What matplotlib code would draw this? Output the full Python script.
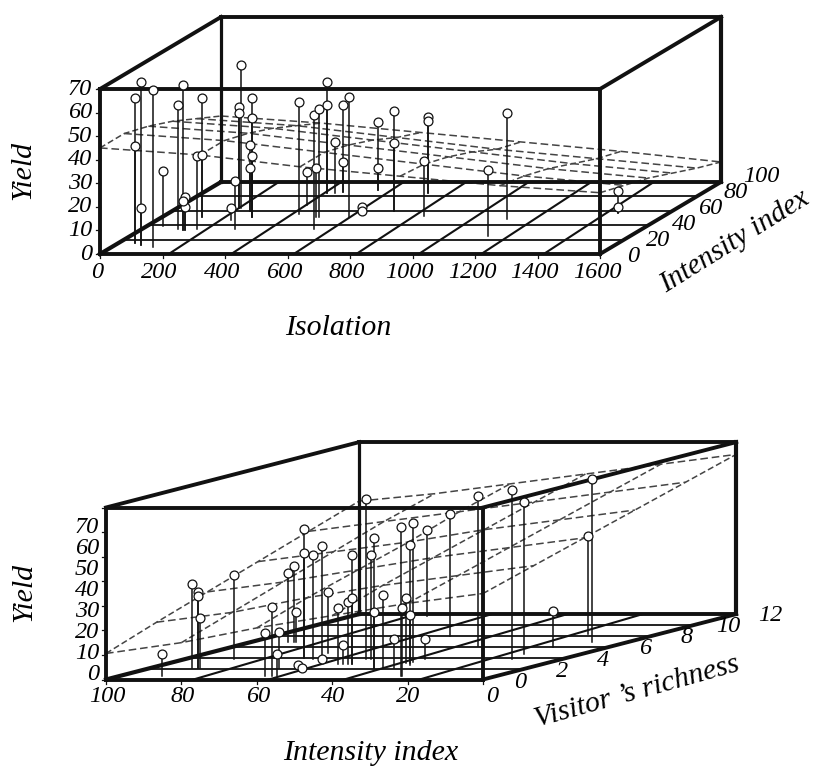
import matplotlib
matplotlib.use("Agg")
import matplotlib.pyplot as plt

plt.rcParams['font.family'] = 'Liberation Serif'
plt.rcParams['font.style'] = 'italic'

# top panel: isolation, intensity index (depth), yield
iso_x = [55, 55, 82, 82, 135, 52, 116, 138, 143, 143, 138, 177, 129, 129, 236, 300, 200, 200, 206, 246, 246,
         290, 290, 290, 424, 398, 551, 495, 504, 396, 396, 426, 442, 442, 597, 621, 621, 546, 546, 708, 708,
         721, 721, 832, 1146, 1114, 1440, 1440]
iso_depth = [14.8, 14.8, 12.5, 12.5, 9.3, 38.9, 34.3, 33.3, 33.3, 33.3, 33.3, 34.3, 50.9, 50.9, 47.2, 34.3, 63.4,
             63.4, 63.4, 60.2, 60.2, 50.9, 50.9, 50.9, 55.1, 68.1, 34.3, 50.9, 50.9, 85.2, 85.2, 84.3, 86.6, 86.6,
             51.9, 56.5, 56.5, 88.9, 88.9, 60.2, 60.2, 85.2, 85.2, 52.8, 25, 48.6, 56.5, 56.5]
iso_yield = [61.8, 41.2, 69.2, 15.8, 66.6, 23.5, 52.8, 61.5, 14.1, 9.9, 12.3, 31, 50.8, 26.4, 5.2, 20.4, 43.1,
             40.3, 60.8, 28, 18.2, 50.8, 42.3, 25.9, 47.7, 14, 48.5, 21, 45.8, 47, 37.2, 21.6, 36.8, 12.6,
             50.9, 2.8, 1, 28.9, 9.5, 42.4, 28.6, 32.2, 30.6, 23.5, 27.8, 44.8, 9.5, 2.8]
iso_grid_x = [0, 320, 640, 960, 1280, 1600]
iso_grid_depth = [0, 20, 40, 60, 80, 100]
iso_surface = [[45, 42, 37, 33, 29, 26],
               [45, 42, 37, 32, 27, 23],
               [42, 39, 34, 29, 24, 20],
               [38, 35, 30, 25, 20, 16],
               [33, 30, 25, 20, 16, 12],
               [28, 25, 21, 17, 13, 8.5]]

# bottom panel: intensity index, visitor's richness (depth), yield
int_x = [88.7, 88.7, 87.2, 87.2, 86.5, 87, 61.4, 59.4, 58.2, 65.5, 89.9, 88.4, 88, 60.6, 55.9, 69.5, 69.5, 66,
         64.6, 61.2, 68.2, 54, 52.9, 51.4, 50.3, 50.3, 52, 50.5, 40.4, 40.4, 38.1, 35.2, 25.2, 24.9, 37, 34.4,
         36, 37.1, 80.3, 36.2, 53.2, 35.4, 13.3, 15.1, 14.9, 18.5, 9.5]
int_depth = [0.62, 2.05, 2.05, 2.05, 2.05, 3.73, 0.62, 0.62, 0.62, 2.05, 6.84, 6.84, 6.84, 2.05, 1.43, 3.92, 3.92,
             3.73, 3.92, 3.3, 4.85, 2.8, 2.8, 2.8, 2.8, 2.8, 3.73, 3.73, 2.05, 2.05, 2.05, 2.05, 0.62, 0.62,
             2.98, 2.67, 2.98, 3.3, 11.7, 3.73, 7.96, 6.09, 3.73, 4.66, 5.97, 8.27, 6.84]
int_yield = [9, 34.5, 31.2, 29.6, 20.4, 34.3, 17.4, 28.2, 9, 14.8, 28.1, 30.9, 12.3, 1.4, 1.4, 52.5, 42.7, 42.5,
             45.5, 1.1, 24.8, 22.8, 7.7, 25.2, 44.5, 27.1, 65.1, 42.5, 53, 22.8, 29.9, 11.9, 60.8, 27.7,
             26.7, 20.4, 48.2, 56.2, 35, 8.1, 49.5, 61.3, 68.7, 61.9, 14.8, 40, 66.5]
int_grid_x = [100, 80, 60, 40, 20, 0]
int_grid_depth = [0, 2.4, 4.8, 7.2, 9.6, 12]
int_surface = [[10.6, 15, 21, 26, 31, 35],
               [18, 22, 28, 33, 37, 41],
               [25, 29, 34, 39, 43, 47],
               [32, 36, 40, 45, 49, 53],
               [39, 43, 47, 51, 55, 59],
               [46, 49, 53, 57, 61, 65]]

yield_ticks = [0, 10, 20, 30, 40, 50, 60, 70]
iso_ticks = [0, 200, 400, 600, 800, 1000, 1200, 1400, 1600]
iso_depth_ticks = [0, 20, 40, 60, 80, 100]
int_ticks = [100, 80, 60, 40, 20, 0]
int_depth_ticks = [0, 2, 4, 6, 8, 10, 12]

INK = '#111111'


def proj_iso(x, d, z):
    return 100 + x * 500 / 1600 + d * 1.21, 254 - d * 0.72 - z * 2.357


def proj_int(x, d, z):
    return 483 - x * 3.77 + d * 21.1, 679.5 - d * 5.45 - z * 2.457


def seg(ax, proj, a, b, lw, **kw):
    xa, ya = proj(*a)
    xb, yb = proj(*b)
    ax.plot([xa, xb], [ya, yb], color=kw.pop('color', INK), lw=lw, solid_capstyle='projecting', **kw)


def draw_panel(ax, proj, xs, ds, zs, grid_x, grid_d, surface, x_ticks, d_ticks, d_inner, shift_front, shift_back):
    x0, x1 = x_ticks[0], x_ticks[-1]
    d1 = d_ticks[-1]
    z1 = yield_ticks[-1]

    # floor grid
    for d in d_inner:
        seg(ax, proj, (x0, d, 0), (x1, d, 0), 1.3)
    for t in x_ticks[1:-1]:
        seg(ax, proj, (t + shift_front, 0, 0), (t + shift_back, d1, 0), 1.5)

    # fitted surface
    for row, d in zip(surface, grid_d):
        px, py = zip(*[proj(x, d, z) for x, z in zip(grid_x, row)])
        ax.plot(px, py, color='#444444', lw=1.1, ls=(0, (5, 2.5)))
    for j, x in enumerate(grid_x):
        px, py = zip(*[proj(x, d, row[j]) for d, row in zip(grid_d, surface)])
        ax.plot(px, py, color='#444444', lw=1.1, ls=(0, (4, 2)))

    # box back, then stems and points, then the front
    seg(ax, proj, (x0, d1, 0), (x0, d1, z1), 2.3)
    seg(ax, proj, (x1, d1, 0), (x1, d1, z1), 3)
    seg(ax, proj, (x0, d1, z1), (x1, d1, z1), 2.8)
    seg(ax, proj, (x0, d1, 0), (x1, d1, 0), 2.8)
    seg(ax, proj, (x0, 0, 0), (x0, d1, 0), 3)
    seg(ax, proj, (x1, 0, 0), (x1, d1, 0), 2.8)
    seg(ax, proj, (x0, 0, z1), (x0, d1, z1), 2.8)
    seg(ax, proj, (x1, 0, z1), (x1, d1, z1), 2.8)
    seg(ax, proj, (x0, 0, 0), (x1, 0, 0), 2.8)
    seg(ax, proj, (x0, 0, 0), (x0, 0, z1), 2.8)
    seg(ax, proj, (x1, 0, 0), (x1, 0, z1), 2.8)
    seg(ax, proj, (x0, 0, z1), (x1, 0, z1), 2.8)

    for x, d, z in zip(xs, ds, zs):
        px, py = zip(proj(x, d, 0), proj(x, d, z))
        ax.plot(px, py, color=INK, lw=1.1, zorder=4)
        ax.plot(px[1], py[1], 'o', ms=6.4, mfc='white', mec=INK, mew=0.9, zorder=5)

    # tick marks
    for t in x_ticks:
        px, py = proj(t, 0, 0)
        ax.plot([px, px], [py, py + 4], color=INK, lw=0.9)
    for z in yield_ticks:
        px, py = proj(x0, 0, z)
        ax.plot([px - 4, px], [py, py], color=INK, lw=0.9)


fig = plt.figure(figsize=(8.16, 7.67), dpi=100)
ax = fig.add_axes([0, 0, 1, 1])
ax.set_xlim(0, 816)
ax.set_ylim(767, 0)
ax.axis('off')

draw_panel(ax, proj_iso, iso_x, iso_depth, iso_yield, iso_grid_x, iso_grid_depth, iso_surface,
           iso_ticks, iso_depth_ticks, [20, 40, 60, 80], 20, -15)
draw_panel(ax, proj_int, int_x, int_depth, int_yield, int_grid_x, int_grid_depth, int_surface,
           int_ticks, int_depth_ticks, [2, 4, 6, 8, 10], -3.2, 4.8)

TICK = 17.5
TITLE = 21.5

for t in iso_ticks:
    px, py = proj_iso(t, 0, 0)
    ax.text(px - 3, 272, str(t), fontsize=TICK, ha='center', va='center')
for z in yield_ticks:
    px, py = proj_iso(0, 0, z)
    ax.text(92, py, str(z), fontsize=TICK, ha='right', va='center')
for d in iso_depth_ticks:
    px, py = proj_iso(1600, d, 0)
    ax.text(px + 33 + 0.07 * d, py + 3 - 0.09 * d, str(d), fontsize=TICK, ha='center', va='center')

ax.text(338, 328, 'Isolation', fontsize=TITLE, ha='center', va='center')
ax.text(23, 170, 'Yield', fontsize=TITLE, rotation=90, ha='center', va='center')
ax.text(735, 242, 'Intensity index', fontsize=21, rotation=32, ha='center', va='center',
        rotation_mode='anchor')

for t in int_ticks:
    px, py = proj_int(t, 0, 0)
    ax.text(px + (1 if t else 9), 697, str(t), fontsize=TICK, ha='center', va='center')
# the labels of this axis sit closer together than its ticks
for z in yield_ticks:
    ax.text(99, 675 - z * 2.11, str(z), fontsize=TICK, ha='right', va='center')
for d in int_depth_ticks:
    px, py = proj_int(0, d, 0)
    ax.text(px + 37 - 0.25 * d, py + 3 - 0.17 * d, str(d), fontsize=TICK, ha='center', va='center')

ax.text(371, 753, 'Intensity index', fontsize=TITLE, ha='center', va='center')
ax.text(24, 592, 'Yield', fontsize=TITLE, rotation=90, ha='center', va='center')
ax.text(637, 692, 'Visitor ’s richness', fontsize=TITLE, rotation=15.5, ha='center', va='center',
        rotation_mode='anchor')

fig.savefig('out.png', dpi=100)
